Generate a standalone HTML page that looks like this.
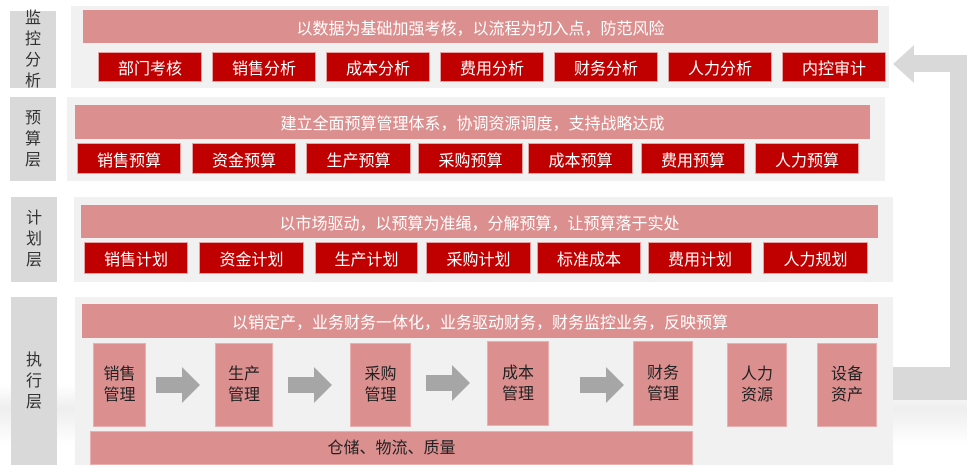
<!DOCTYPE html>
<html><head><meta charset="utf-8"><style>
body{margin:0;width:967px;height:470px;background:#fff;position:relative;overflow:hidden;font-family:"Liberation Sans","Noto Sans CJK SC",sans-serif}
div{position:absolute;box-sizing:border-box}
.lab{background:#d9d9d9;color:#333;font-size:16px;display:flex;align-items:center;justify-content:center;text-align:center;line-height:21px;width:46px;left:10px}
.pan{background:#f1f1f1}
.ban{background:#dc8f8f;color:#fff;font-size:16px;display:flex;align-items:center;justify-content:center}
.b{background:#c00000;color:#fff;font-size:16px;display:flex;align-items:center;justify-content:center;border:1px solid #e8a0a0}
.p{background:#dc8f8f;color:#222;font-size:16px;display:flex;align-items:center;justify-content:center;text-align:center;line-height:21px;border:1px solid #e8b0b0}
</style></head><body>
<div style="left:0;top:385px;width:967px;height:60px;background:linear-gradient(#fff,#eee 40%,#fff)"></div>
<div style="left:950px;top:55px;width:17px;height:345px;background:#d9d9d9"></div>
<div style="left:910px;top:55px;width:57px;height:17px;background:#d9d9d9"></div>
<div style="left:893px;top:367px;width:74px;height:33px;background:#d9d9d9"></div>
<svg style="position:absolute;left:890px;top:44px" width="26" height="40"><polygon points="3,20 24,1 24,39" fill="#d9d9d9"/></svg>

<div class="lab" style="top:11px;height:77px">监<br>控<br>分<br>析</div>
<div class="pan" style="left:71px;top:6px;width:818px;height:82px"></div>
<div class="ban" style="left:83px;top:10px;width:795px;height:33px">以数据为基础加强考核，以流程为切入点，防范风险</div>
<div class="b" style="left:98px;top:52px;width:104px;height:30px">部门考核</div>
<div class="b" style="left:212px;top:52px;width:104px;height:30px">销售分析</div>
<div class="b" style="left:326px;top:52px;width:104px;height:30px">成本分析</div>
<div class="b" style="left:440px;top:52px;width:104px;height:30px">费用分析</div>
<div class="b" style="left:554px;top:52px;width:104px;height:30px">财务分析</div>
<div class="b" style="left:668px;top:52px;width:104px;height:30px">人力分析</div>
<div class="b" style="left:782px;top:52px;width:104px;height:30px">内控审计</div>

<div class="lab" style="top:97px;height:84px">预<br>算<br>层</div>
<div class="pan" style="left:67px;top:97px;width:818px;height:84px"></div>
<div class="ban" style="left:75px;top:105px;width:795px;height:34px">建立全面预算管理体系，协调资源调度，支持战略达成</div>
<div class="b" style="left:77px;top:143px;width:104px;height:31px">销售预算</div>
<div class="b" style="left:192px;top:143px;width:104px;height:31px">资金预算</div>
<div class="b" style="left:306px;top:143px;width:105px;height:31px">生产预算</div>
<div class="b" style="left:418px;top:143px;width:105px;height:31px">采购预算</div>
<div class="b" style="left:528px;top:143px;width:105px;height:31px">成本预算</div>
<div class="b" style="left:641px;top:143px;width:104px;height:31px">费用预算</div>
<div class="b" style="left:755px;top:143px;width:104px;height:31px">人力预算</div>

<div class="lab" style="top:197px;height:85px;left:11px">计<br>划<br>层</div>
<div class="pan" style="left:74px;top:197px;width:819px;height:85px"></div>
<div class="ban" style="left:81px;top:205px;width:797px;height:33px">以市场驱动，以预算为准绳，分解预算，让预算落于实处</div>
<div class="b" style="left:84px;top:242px;width:104px;height:32px">销售计划</div>
<div class="b" style="left:199px;top:242px;width:105px;height:32px">资金计划</div>
<div class="b" style="left:315px;top:242px;width:103px;height:32px">生产计划</div>
<div class="b" style="left:426px;top:242px;width:105px;height:32px">采购计划</div>
<div class="b" style="left:537px;top:242px;width:104px;height:32px">标准成本</div>
<div class="b" style="left:648px;top:242px;width:104px;height:32px">费用计划</div>
<div class="b" style="left:763px;top:242px;width:105px;height:32px">人力规划</div>

<div class="lab" style="top:297px;height:168px;left:11px">执<br>行<br>层</div>
<div class="pan" style="left:75px;top:297px;width:818px;height:168px"></div>
<div class="ban" style="left:82px;top:304px;width:796px;height:34px">以销定产，业务财务一体化，业务驱动财务，财务监控业务，反映预算</div>
<div class="p" style="left:93px;top:343px;width:53px;height:84px">销售<br>管理</div>
<div class="p" style="left:215px;top:343px;width:58px;height:84px">生产<br>管理</div>
<div class="p" style="left:350px;top:343px;width:61px;height:84px">采购<br>管理</div>
<div class="p" style="left:487px;top:341px;width:62px;height:85px">成本<br>管理</div>
<div class="p" style="left:633px;top:341px;width:60px;height:85px">财务<br>管理</div>
<div class="p" style="left:727px;top:343px;width:60px;height:84px">人力<br>资源</div>
<div class="p" style="left:817px;top:343px;width:60px;height:84px">设备<br>资产</div>
<svg style="position:absolute;left:0;top:0" width="967" height="470">
<g fill="#a6a6a6">
<polygon points="156,377 182,377 182,367 200,385 182,403 182,393 156,393"/>
<polygon points="288,377 314,377 314,367 332,385 314,403 314,393 288,393"/>
<polygon points="426,375 452,375 452,365 470,383 452,401 452,391 426,391"/>
<polygon points="580,377 606,377 606,367 624,385 606,403 606,393 580,393"/>
</g></svg>
<div class="p" style="left:90px;top:431px;width:603px;height:34px">仓储、物流、质量</div>
</body></html>
